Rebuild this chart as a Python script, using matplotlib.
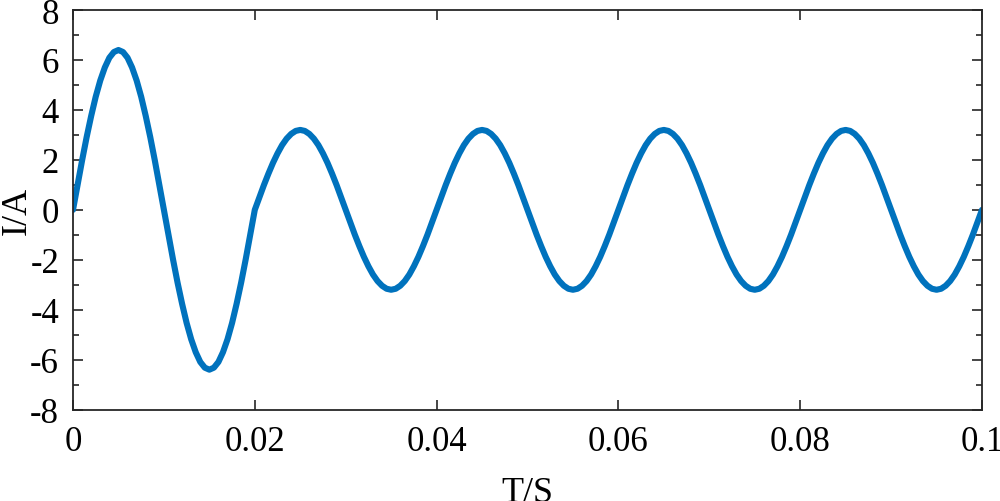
import numpy as np
import matplotlib
matplotlib.use("Agg")
import matplotlib.pyplot as plt

# Sample spacing (s) of the values
dt = 0.0005

# Current (A) over the first cycle, t = 0 ... 0.0195 s
first_cycle = [0, 1.00, 1.98, 2.91, 3.76, 4.53, 5.18, 5.70, 6.09, 6.32,
               6.40, 6.32, 6.09, 5.70, 5.18, 4.53, 3.76, 2.91, 1.98, 1.00,
               0, -1.00, -1.98, -2.91, -3.76, -4.53, -5.18, -5.70, -6.09, -6.32,
               -6.40, -6.32, -6.09, -5.70, -5.18, -4.53, -3.76, -2.91, -1.98, -1.00]

# Current (A) over one later cycle (repeats 4 times from t = 0.02 s)
steady_cycle = [0, 0.50, 0.99, 1.45, 1.88, 2.26, 2.59, 2.85, 3.04, 3.16,
                3.20, 3.16, 3.04, 2.85, 2.59, 2.26, 1.88, 1.45, 0.99, 0.50,
                0, -0.50, -0.99, -1.45, -1.88, -2.26, -2.59, -2.85, -3.04, -3.16,
                -3.20, -3.16, -3.04, -2.85, -2.59, -2.26, -1.88, -1.45, -0.99, -0.50]
n_steady_cycles = 4
end_value = [0]

x_ticks = [0, 0.02, 0.04, 0.06, 0.08, 0.1]
x_tick_labels = ["0", "0.02", "0.04", "0.06", "0.08", "0.1"]
y_ticks = [-8, -6, -4, -2, 0, 2, 4, 6, 8]
y_tick_labels = ["-8", "-6", "-4", "-2", "0", "2", "4", "6", "8"]

current = np.array(first_cycle + steady_cycle * n_steady_cycles + end_value)
t = np.arange(len(current)) * dt

plt.rcParams['font.family'] = ['Liberation Serif', 'DejaVu Serif']

fig = plt.figure(figsize=(10, 5.02), dpi=100)
ax = fig.add_axes([0.073, 0.182, 0.909, 0.796])
ax.plot(t, current, color='#0072BD', linewidth=4.4, solid_capstyle='round',
        solid_joinstyle='round')

ax.set_xlim(0, 0.1)
ax.set_ylim(-8, 8)
ax.set_xticks(x_ticks)
ax.set_xticklabels(x_tick_labels)
ax.set_yticks(y_ticks)
ax.set_yticklabels(y_tick_labels)
ax.set_yticks(np.arange(-7, 8, 2), minor=True)

ax.tick_params(axis='both', which='major', direction='in', length=7, width=1.2,
               labelsize=25, top=True, right=True, color='#262626')
ax.tick_params(axis='x', which='major', pad=11)
ax.tick_params(axis='y', which='major', pad=10)
ax.tick_params(axis='y', which='minor', direction='in', length=4, width=1.2,
               right=True, left=True, color='#262626')
ax.tick_params(axis='x', which='minor', bottom=False, top=False)
for s in ax.spines.values():
    s.set_linewidth(1.3)
    s.set_color('#262626')

ax.set_xlabel('T/S', fontsize=26, labelpad=13)
ax.set_ylabel('I/A', fontsize=26)
ax.yaxis.set_label_coords(-0.0435, 0.5)

fig.savefig('out.png', dpi=100)
